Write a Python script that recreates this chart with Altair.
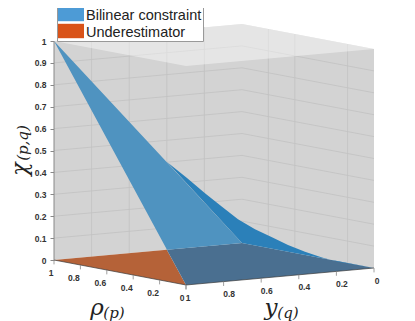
import altair as alt
import pandas as pd

# ---- chart values (p, q, chi) ----
P_TICKS = [1, 0.8, 0.6, 0.4, 0.2, 0]
P_LABELS = ["1", "0.8", "0.6", "0.4", "0.2", "0"]
Q_TICKS = [1, 0.8, 0.6, 0.4, 0.2, 0]
Q_LABELS = ["1", "0.8", "0.6", "0.4", "0.2", "0"]
CHI_TICKS = [0, 0.1, 0.2, 0.3, 0.4, 0.5, 0.6, 0.7, 0.8, 0.9, 1]
GRID_Q = [0.8, 0.6, 0.4, 0.2]
GRID_P = [0.8, 0.6, 0.2]
GRID_CHI = [0.1, 0.2, 0.3, 0.4, 0.5, 0.6, 0.7, 0.8, 0.9]

# faces as (p, q, chi) corners
WALLS = [(1, 1, 1), (1, 0, 1), (0, 0, 1), (0, 0, 0), (1, 0, 0), (1, 1, 0)]
CAP = [(1, 1, 1), (0, 1, 1), (0, 0, 1), (1, 0, 1)]
UNDER = [(1, 1, 0), (0, 1, 0), (1, 0.4, 0)]
FLOOR_BLUE = [(1, 0.4, 0), (1, 0, 0), (0, 0, 0), (0, 1, 0)]
BILINEAR_FRONT = [(1, 1, 1), (0.143, 1, 0.143), (1, 0.4, 0), (1, 0, 0)]
# fold of the surface seen behind it: outline as (screen x, height in chi units)
FOLD_X = [167, 187, 205, 222, 238, 255, 272, 288, 305, 322, 338, 374, 242]
FOLD_CHI = [0.447, 0.374, 0.305, 0.243, 0.186, 0.140, 0.104, 0.068, 0.038, 0.011, -0.008, -0.037, 0.078]

SERIES = ["Bilinear constraint", "Underestimator"]
SERIES_COLORS = ["#4d9bd6", "#d95319"]


def sx(p, q):
    return 186 - 132 * p + 188 * (1 - q)


def sh(p, q, chi):
    # height in chi units, floor perspective added
    return chi + (260 - (285 - 25 * p - 17 * (1 - q))) / 219


def frame(points):
    return pd.DataFrame(
        [{"i": i, "x": sx(p, q), "h": sh(p, q, c)} for i, (p, q, c) in enumerate(points)]
    )


X = alt.X("x:Q", scale=alt.Scale(domain=[8, 407], nice=False, zero=False), axis=None)
YS = alt.Scale(domain=[-0.2785, 1.1507], nice=False, zero=False)
Y = alt.Y(
    "h:Q",
    scale=YS,
    axis=alt.Axis(
        orient="left",
        offset=-46,
        values=CHI_TICKS,
        format="~g",
        title=None,
        domain=False,
        grid=False,
        tickColor="#888888",
        tickSize=4,
        labelColor="#333333",
        labelFont="Liberation Sans",
        labelFontSize=8.5,
        labelFontWeight="bold",
        labelPadding=4,
    ),
)


def face(df, fill, opacity=1):
    return (
        alt.Chart(df)
        .mark_line(fill=fill, stroke=None, fillOpacity=opacity, strokeWidth=0, clip=False)
        .encode(x=X, y=Y, order="i:Q")
    )


def seg(rows, color, width=0.8, op=1):
    df = pd.DataFrame(
        [{"k": k, "i": i, "x": a, "h": b} for k, r in enumerate(rows) for i, (a, b) in enumerate(r)]
    )
    return (
        alt.Chart(df)
        .mark_line(color=color, strokeWidth=width, opacity=op)
        .encode(x=X, y=Y, detail="k:N", order="i:Q")
    )


grid_rows = []
for c in GRID_CHI:
    grid_rows.append([(sx(1, 1), sh(1, 1, c)), (sx(1, 0), sh(1, 0, c)), (sx(0, 0), sh(0, 0, c))])
for q in GRID_Q:
    grid_rows.append([(sx(1, q), sh(1, q, 0)), (sx(1, q), sh(1, q, 1))])
for p in GRID_P:
    grid_rows.append([(sx(p, 0), sh(p, 0, 0)), (sx(p, 0), sh(p, 0, 1))])

fold = pd.DataFrame({"i": range(len(FOLD_X)), "x": FOLD_X, "h": FOLD_CHI})

tick_rows = []
for p in P_TICKS:
    tick_rows.append([(sx(p, 1), sh(p, 1, 0)), (sx(p, 1), sh(p, 1, 0) - 0.02)])
for q in Q_TICKS:
    tick_rows.append([(sx(0, q), sh(0, q, 0)), (sx(0, q), sh(0, q, 0) - 0.02)])

label_rows = []
for p, t in zip(P_TICKS, P_LABELS):
    dx = -3 if t == "1" else (-4 if t == "0" else -6.5)
    label_rows.append({"x": sx(p, 1) + dx, "h": sh(p, 1, 0) - 13 / 219, "t": t})
for q, t in zip(Q_TICKS, Q_LABELS):
    dx = 2 if t == "1" else (3 if t == "0" else 5.5)
    label_rows.append({"x": sx(0, q) + dx, "h": sh(0, q, 0) - 12.5 / 219, "t": t})
tick_text = (
    alt.Chart(pd.DataFrame(label_rows))
    .mark_text(font="Liberation Sans", fontSize=8.5, fontWeight="bold", color="#333333", align="center", baseline="middle")
    .encode(x=X, y=Y, text="t:N")
)


def label(txt, x, y, size, angle=0, font="DejaVu Serif"):
    df = pd.DataFrame({"x": [x], "h": [(260 - y) / 219], "t": [txt]})
    return (
        alt.Chart(df)
        .mark_text(font=font, fontStyle="italic", fontSize=size, color="#222222", angle=angle, align="center", baseline="middle")
        .encode(x=X, y=Y, text="t:N")
    )


legend_layer = (
    alt.Chart(pd.DataFrame({"s": SERIES, "x": [100, 100], "h": [0.5, 0.5]}))
    .mark_point(opacity=0, filled=True)
    .encode(
        x=X,
        y=Y,
        color=alt.Color(
            "s:N",
            scale=alt.Scale(domain=SERIES, range=SERIES_COLORS),
            legend=alt.Legend(
                title=None,
                orient="none",
                legendX=49,
                legendY=-1,
                fillColor="white",
                strokeColor="#999999",
                padding=1,
                symbolType="M-1,-1.15H2.25V0.65H-1Z",
                symbolSize=256,
                symbolOpacity=1,
                symbolStrokeWidth=0,
                labelFont="Liberation Sans",
                labelFontSize=14.5,
                labelColor="#222222",
                labelOffset=12,
                rowPadding=0,
                labelLimit=200,
            ),
        ),
    )
)

chart = alt.layer(
    face(frame(WALLS), "#d3d3d3"),
    seg(grid_rows, "#c2c2c2", 0.8),
    face(frame(CAP), "#ffffff", 0.42),
    face(frame(UNDER), "#b56238"),
    face(frame(FLOOR_BLUE), "#4a6f90"),
    face(fold, "#2b80b9"),
    face(frame(BILINEAR_FRONT), "#4f93c0"),
    seg([[(sx(1, 1), sh(1, 1, 0)), (sx(0, 1), sh(0, 1, 0)), (sx(0, 0), sh(0, 0, 0))]], "#3a3a3a", 0.7),
    seg([[(sx(1, 1), sh(1, 1, 0)), (sx(1, 1), sh(1, 1, 1))]], "#888888", 1),
    seg(tick_rows, "#888888", 0.8),
    tick_text,
    label("χ", 19.5, 169, 22, 270),
    label("(p,q)", 23, 143, 15, 270),
    label("ρ", 97, 308, 23),
    label("(p)", 114, 313, 15),
    label("y", 271, 308, 23),
    label("(q)", 288, 313, 15),
    legend_layer,
).properties(width=399, height=313, padding=0, autosize=alt.AutoSizeParams(type="none")).configure_view(stroke=None)

chart.save("out.html", embed_options={"renderer": "svg", "actions": False})
